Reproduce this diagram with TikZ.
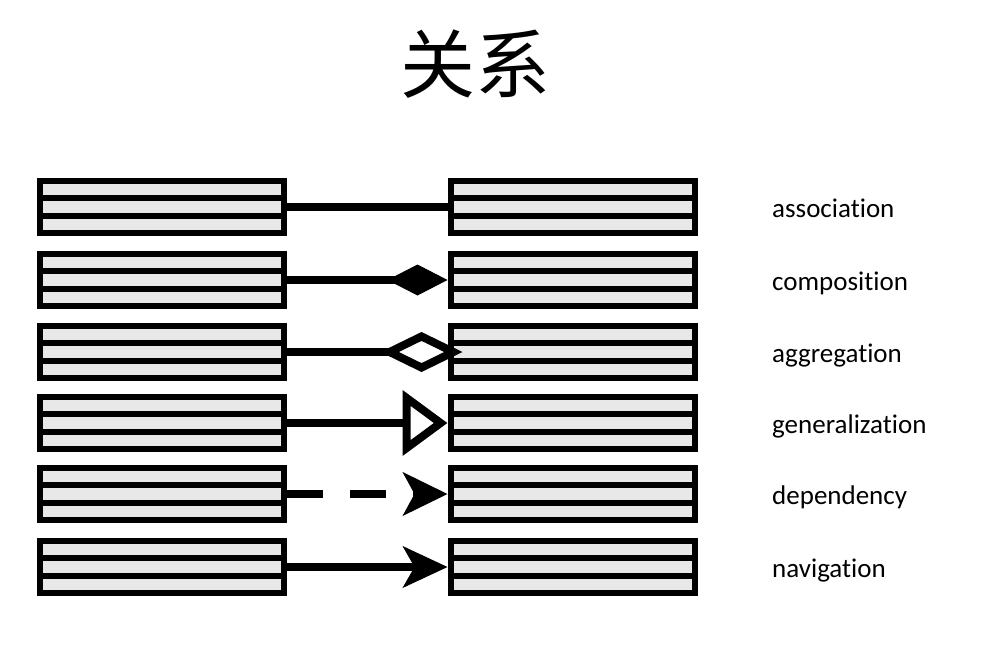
\documentclass[tikz,border=0pt]{standalone}
\usepackage{fontspec}
\setmainfont{Carlito}[Ligatures=NoCommon]
\newfontfamily\cjk{Noto Sans CJK SC}
\usetikzlibrary{arrows.meta,calc}
\definecolor{stripegray}{RGB}{232,232,232}
\tikzset{
  umlbox/.style={rectangle, fill=black, minimum width=250pt, minimum height=58pt,
    inner sep=0pt, outer sep=0pt,
    path picture={
      \foreach \k in {0,1,2}{
        \fill[stripegray]
          ([shift={(6pt,{-6pt-\k*17.33pt})}]path picture bounding box.north west)
          rectangle
          ([shift={(-6pt,{-17.33pt-\k*17.33pt})}]path picture bounding box.north east);
      }
    }},
  conn/.style={line width=8pt, draw=black},
  lbl/.style={anchor=base west, inner sep=0pt, font=\fontsize{27}{30}\selectfont},
}
\begin{document}
\begin{tikzpicture}[x=1pt,y=-1pt]
\useasboundingbox (0,0) rectangle (991,654);
\node[anchor=base, inner sep=0pt, font=\cjk\fontsize{75}{80}\selectfont] (title) at (475,92) {关系};
\foreach \i/\y in {1/207,2/280,3/352,4/423,5/494,6/567}{
  \node[umlbox] (L\i) at (162,\y) {};
  \node[umlbox] (R\i) at (572.5,\y) {};
}
\node[lbl] (t1) at (772,217) {association};
\node[lbl] (t2) at (772,290) {composition};
\node[lbl] (t3) at (772,362) {aggregation};
\node[lbl] (t4) at (772,433) {generalization};
\node[lbl] (t5) at (772,504) {dependency};
\node[lbl] (t6) at (772,577) {navigation};
\draw[conn] (L1.east) -- (R1.west);
\draw[conn, -{Diamond[length=60pt,width=31pt,line width=1pt]}] (L2.east) -- (R2.west);
\draw[conn, shorten >=-15pt, -{Diamond[fill=white,length=82pt,width=40pt,line width=8pt]}] (L3.east) -- (R3.west);
\draw[conn, -{Triangle[fill=white,length=45pt,width=64pt,line width=8pt]}] (L4.east) -- (R4.west);
\draw[conn, dash pattern=on 36pt off 27pt, -{Stealth[length=45pt,width=44pt,inset=12pt,line width=1pt]}] (L5.east) -- (R5.west);
\draw[conn, -{Stealth[length=45pt,width=42pt,inset=12pt,line width=1pt]}] (L6.east) -- (R6.west);
\end{tikzpicture}
\end{document}
